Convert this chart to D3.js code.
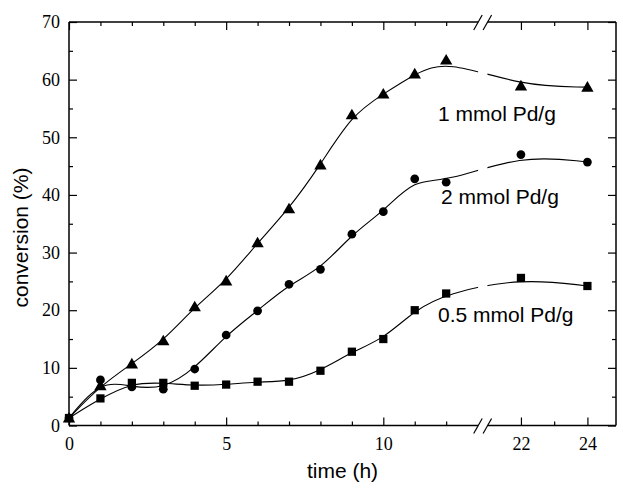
<!DOCTYPE html>
<html>
<head>
<meta charset="utf-8">
<script src="https://cdn.jsdelivr.net/npm/d3@7/dist/d3.min.js"></script>
<style>
  html, body { margin: 0; padding: 0; background: #fff; }
  svg { display: block; }
  .lbl { font-family: "Liberation Sans", Arial, sans-serif; font-size: 21px; fill: #000; }
</style>
</head>
<body>
<svg id="chart" width="623" height="488"></svg>
<script>
// Reaction time (h) and conversion (%) for three Pd loadings
const times = [0, 1, 2, 3, 4, 5, 6, 7, 8, 9, 10, 11, 12, 22, 24];
const conv1mmol  = [1.3, 6.9, 10.7, 14.7, 20.6, 25.1, 31.7, 37.6, 45.2, 53.9, 57.5, 61.0, 63.4, 58.9, 58.7];
const conv2mmol  = [1.3, 7.9, 6.7, 6.3, 9.8, 15.7, 19.9, 24.5, 27.1, 33.2, 37.1, 42.8, 42.2, 47.0, 45.7];
const conv05mmol = [1.3, 4.7, 7.4, 7.4, 6.9, 7.1, 7.6, 7.6, 9.5, 12.8, 15.0, 20.0, 22.9, 25.6, 24.2];
const seriesNames = ["1 mmol Pd/g", "2 mmol Pd/g", "0.5 mmol Pd/g"];

const xMajorTicks = [0, 5, 10, 22, 24];
const xMinorTicks = [1, 2, 3, 4, 6, 7, 8, 9, 11, 12, 23];
const yMajorTicks = [0, 10, 20, 30, 40, 50, 60, 70];
const yMinorTicks = [5, 15, 25, 35, 45, 55, 65];

// Broken time axis: 0–13 h, gap, 21–24.86 h
const breakLo = 13, breakHi = 21;
const pLeft = 69, pRight = 616, pTop = 22, pBottom = 425.5;
const x = d3.scaleLinear().domain([0, breakLo, breakHi, 24.86]).range([pLeft, 477.6, 487.7, pRight]);
const y = d3.scaleLinear().domain([0, 70]).range([pBottom, pTop]);

const svg = d3.select("#chart");

// clip the curves around the axis break
const defs = svg.append("defs");
const clip = defs.append("clipPath").attr("id", "brk");
clip.append("rect").attr("x", pLeft).attr("y", 0).attr("width", x(breakLo) - pLeft + 0.5).attr("height", 488);
clip.append("rect").attr("x", x(breakHi) - 0.3).attr("y", 0).attr("width", pRight - x(breakHi) + 1).attr("height", 488);

// axes (inward ticks)
function xAxis(gen, ticks, size, labels) {
  return gen(x).tickValues(ticks).tickSize(size).tickPadding(labels ? 11.5 : 0)
    .tickFormat(labels ? d3.format("d") : "");
}
const axG = svg.append("g");
axG.append("g").attr("transform", `translate(0,${pBottom})`).call(xAxis(d3.axisBottom, xMajorTicks, -8, true));
axG.append("g").attr("transform", `translate(0,${pBottom})`).call(xAxis(d3.axisBottom, xMinorTicks, -4, false));
axG.append("g").attr("transform", `translate(0,${pTop})`).call(xAxis(d3.axisTop, xMajorTicks, -8, false));
axG.append("g").attr("transform", `translate(0,${pTop})`).call(xAxis(d3.axisTop, xMinorTicks, -4, false));
axG.append("g").attr("transform", `translate(${pLeft},0)`)
  .call(d3.axisLeft(y).tickValues(yMajorTicks).tickSize(-8).tickPadding(9).tickFormat(d3.format("d")));
axG.append("g").attr("transform", `translate(${pLeft},0)`)
  .call(d3.axisLeft(y).tickValues(yMinorTicks).tickSize(-4).tickFormat(""));
axG.append("g").attr("transform", `translate(${pRight},0)`)
  .call(d3.axisRight(y).tickValues(yMajorTicks).tickSize(-8).tickFormat(""));
axG.append("g").attr("transform", `translate(${pRight},0)`)
  .call(d3.axisRight(y).tickValues(yMinorTicks).tickSize(-4).tickFormat(""));
axG.selectAll(".domain").remove();
axG.selectAll(".tick line").attr("stroke", "#000").attr("stroke-width", 1.2);
axG.selectAll(".tick text")
  .style("font-family", "'Liberation Serif', 'Times New Roman', 'DejaVu Serif', serif")
  .style("font-size", "18px").style("fill", "#000");

// frame with gaps at the break
const frame = svg.append("g").attr("stroke", "#000").attr("stroke-width", 1.5).attr("fill", "none");
const gapA = x(breakLo) + 0.6, gapB = x(breakHi) - 0.1;
frame.append("line").attr("x1", pLeft).attr("x2", pLeft).attr("y1", pTop).attr("y2", pBottom);
frame.append("line").attr("x1", pRight).attr("x2", pRight).attr("y1", pTop).attr("y2", pBottom);
[pTop, pBottom].forEach(yy => {
  frame.append("line").attr("x1", pLeft).attr("x2", gapA).attr("y1", yy).attr("y2", yy);
  frame.append("line").attr("x1", gapB).attr("x2", pRight).attr("y1", yy).attr("y2", yy);
  // break marks
  [gapA, gapB].forEach(cx => {
    frame.append("line").attr("stroke-width", 1.2)
      .attr("x1", cx - 4.5).attr("y1", yy + 8).attr("x2", cx + 4).attr("y2", yy - 7);
  });
});

// series curves and markers
const series = [
  { name: seriesNames[0], values: conv1mmol, sym: d3.symbolTriangle, size: 66 },
  { name: seriesNames[1], values: conv2mmol, sym: d3.symbolCircle, size: 60 },
  { name: seriesNames[2], values: conv05mmol, sym: d3.symbolSquare, size: 68 }
];
const line = d3.line().x(d => x(d[0])).y(d => y(d[1])).curve(d3.curveBasis);

const plot = svg.append("g");
series.forEach(s => {
  const pts = times.map((t, i) => [t, s.values[i]]);
  plot.append("path").datum(pts).attr("d", line)
    .attr("fill", "none").attr("stroke", "#000").attr("stroke-width", 1.1)
    .attr("clip-path", "url(#brk)");
  plot.selectAll(null).data(pts).join("path")
    .attr("transform", d => `translate(${x(d[0])},${y(d[1]) + (s.sym === d3.symbolTriangle ? 1 : 0)})`)
    .attr("d", d3.symbol(s.sym, s.size)).attr("fill", "#000");
});

// series labels
svg.append("text").attr("class", "lbl").attr("x", 438).attr("y", 121).text(seriesNames[0]);
svg.append("text").attr("class", "lbl").attr("x", 441).attr("y", 204).text(seriesNames[1]);
svg.append("text").attr("class", "lbl").attr("x", 438).attr("y", 322).text(seriesNames[2]);

// axis titles
svg.append("text").attr("class", "lbl").attr("text-anchor", "middle")
  .attr("x", (pLeft + pRight) / 2).attr("y", 478).text("time (h)");
svg.append("text").attr("class", "lbl").attr("text-anchor", "middle")
  .attr("transform", "translate(28,237.5) rotate(-90)").text("conversion (%)");
</script>
</body>
</html>
